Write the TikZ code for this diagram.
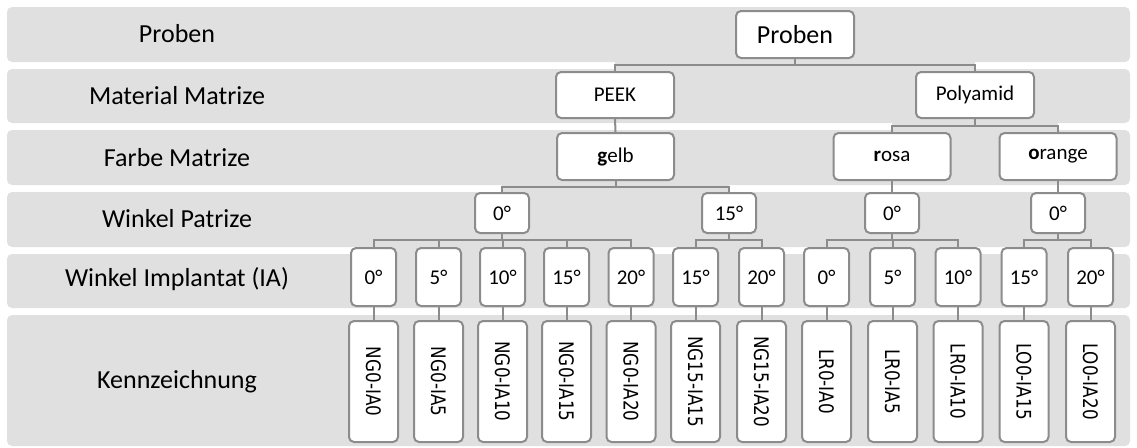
\documentclass[tikz,border=0pt]{standalone}
\usepackage{fontspec}
\usepackage{graphicx}
\setmainfont{Carlito}
\newfontfamily\kfont[FakeStretch=0.84]{DejaVu Sans}
\definecolor{bandgray}{RGB}{224,224,224}
\definecolor{boxgray}{RGB}{140,140,140}
\tikzset{
 band/.style={fill=bandgray, rounded corners=5pt},
 gapfill/.style={fill=bandgray},
 lbl/.style={font=\fontsize{26}{30}\selectfont, text=black, inner sep=0pt},
 box/.style={draw=boxgray, line width=2pt, fill=white, rounded corners=5pt, inner sep=0pt, text=black, align=center},
 bigbox/.style={box, minimum width=118pt, minimum height=47pt, font=\fontsize{26}{30}\selectfont},
 midbox/.style={box, minimum width=118pt, minimum height=46pt, font=\fontsize{21}{25}\selectfont},
 patbox/.style={box, minimum width=54pt, minimum height=40pt, font=\fontsize{21}{25}\selectfont},
 iabox/.style={box, minimum width=45pt, minimum height=58pt, font=\fontsize{21}{25}\selectfont},
 kbox/.style={box, minimum width=49pt, minimum height=121pt, font=\kfont\fontsize{20}{24}\selectfont},
 conn/.style={draw=boxgray, line width=2pt},
}
\begin{document}
\begin{tikzpicture}[x=1pt,y=-1pt]
\useasboundingbox (0,0) rectangle (1137,447);
% bands
\fill[band] (7,7) rectangle (1130,62);
\fill[band] (7,69) rectangle (1130,123);
\fill[band] (7,130) rectangle (1130,185);
\fill[band] (7,192) rectangle (1130,247);
\fill[band] (7,254) rectangle (1130,308);
\fill[band] (7,315) rectangle (1130,446);
% grey fills in gaps under buses
\fill[gapfill] (615,60) rectangle (975,71);
\fill[gapfill] (892,121) rectangle (1058,132);
\fill[gapfill] (502,183) rectangle (729,194);
\fill[gapfill] (373.5,245) rectangle (631,256);
\fill[gapfill] (695.5,245) rectangle (761.5,256);
\fill[gapfill] (826.5,245) rectangle (958,256);
\fill[gapfill] (1024,245) rectangle (1090.5,256);
% row labels
\node[lbl] (l1) at (177,34) {Proben};
\node[lbl] (l2) at (177,96) {Material Matrize};
\node[lbl] (l3) at (177,157.5) {Farbe Matrize};
\node[lbl] (l4) at (177,219) {Winkel Patrize};
\node[lbl] (l5) at (177,279) {Winkel Implantat (IA)};
\node[lbl] (l6) at (177,382) {Kennzeichnung};
% bus levels
\coordinate (bus1) at (0,65);
\coordinate (bus2) at (0,126);
\coordinate (bus3) at (0,187);
\coordinate (bus4) at (0,240);
% tree nodes
\node[bigbox] (root) at (795,34.5) {Proben};
\node[midbox] (peek) at (615,95) {PEEK};
\node[midbox] (poly) at (975,95) {Polyamid};
\node[midbox, minimum width=117pt, minimum height=47pt] (gelb) at (615.5,156.5) {\textbf{g}elb};
\node[midbox, minimum width=117pt, minimum height=47pt] (rosa) at (892,156.5) {\textbf{r}osa};
\node[midbox, minimum width=117pt, minimum height=47pt] (orange) at (1058,156.5) {\textbf{o}range};
\node[patbox] (p1) at (502,213) {0°};
\node[patbox] (p2) at (729,213) {15°};
\node[patbox] (p3) at (892,213) {0°};
\node[patbox] (p4) at (1058,213) {0°};
\node[iabox] (a1) at (373.5,277) {0°};
\node[iabox] (a2) at (438.5,277) {5°};
\node[iabox] (a3) at (502.5,277) {10°};
\node[iabox] (a4) at (566.5,277) {15°};
\node[iabox] (a5) at (631,277) {20°};
\node[iabox] (a6) at (695.5,277) {15°};
\node[iabox] (a7) at (761.5,277) {20°};
\node[iabox] (a8) at (826.5,277) {0°};
\node[iabox] (a9) at (892.5,277) {5°};
\node[iabox] (a10) at (958,277) {10°};
\node[iabox] (a11) at (1024,277) {15°};
\node[iabox] (a12) at (1090.5,277) {20°};
\node[kbox] (k1) at (373.5,381.5) {\rotatebox{-90}{NG0-IA0}};
\node[kbox] (k2) at (438.5,381.5) {\rotatebox{-90}{NG0-IA5}};
\node[kbox] (k3) at (502.5,381.5) {\rotatebox{-90}{NG0-IA10}};
\node[kbox] (k4) at (566.5,381.5) {\rotatebox{-90}{NG0-IA15}};
\node[kbox] (k5) at (631,381.5) {\rotatebox{-90}{NG0-IA20}};
\node[kbox] (k6) at (695.5,381.5) {\rotatebox{-90}{NG15-IA15}};
\node[kbox] (k7) at (761.5,381.5) {\rotatebox{-90}{NG15-IA20}};
\node[kbox] (k8) at (826.5,381.5) {\rotatebox{-90}{LR0-IA0}};
\node[kbox] (k9) at (892.5,381.5) {\rotatebox{-90}{LR0-IA5}};
\node[kbox] (k10) at (958,381.5) {\rotatebox{-90}{LR0-IA10}};
\node[kbox] (k11) at (1024,381.5) {\rotatebox{-90}{LO0-IA15}};
\node[kbox] (k12) at (1090.5,381.5) {\rotatebox{-90}{LO0-IA20}};
% connectors
\draw[conn] (root.south) -- (root.south |- bus1) -| (peek.north);
\draw[conn] (root.south) -- (root.south |- bus1) -| (poly.north);
\draw[conn] (peek.south) -- (gelb.north);
\draw[conn] (poly.south) -- (poly.south |- bus2) -| (rosa.north);
\draw[conn] (poly.south) -- (poly.south |- bus2) -| (orange.north);
\draw[conn] (gelb.south) -- (gelb.south |- bus3) -| (p1.north);
\draw[conn] (gelb.south) -- (gelb.south |- bus3) -| (p2.north);
\draw[conn] (rosa.south) -- (p3.north);
\draw[conn] (orange.south) -- (p4.north);
\foreach \i in {1,...,5} {\draw[conn] (p1.south) -- (p1.south |- bus4) -| (a\i.north);}
\foreach \i in {6,7} {\draw[conn] (p2.south) -- (p2.south |- bus4) -| (a\i.north);}
\foreach \i in {8,9,10} {\draw[conn] (p3.south) -- (p3.south |- bus4) -| (a\i.north);}
\foreach \i in {11,12} {\draw[conn] (p4.south) -- (p4.south |- bus4) -| (a\i.north);}
\foreach \i in {1,...,12} {\draw[conn] (a\i.south) -- (k\i.north);}
\end{tikzpicture}
\end{document}
